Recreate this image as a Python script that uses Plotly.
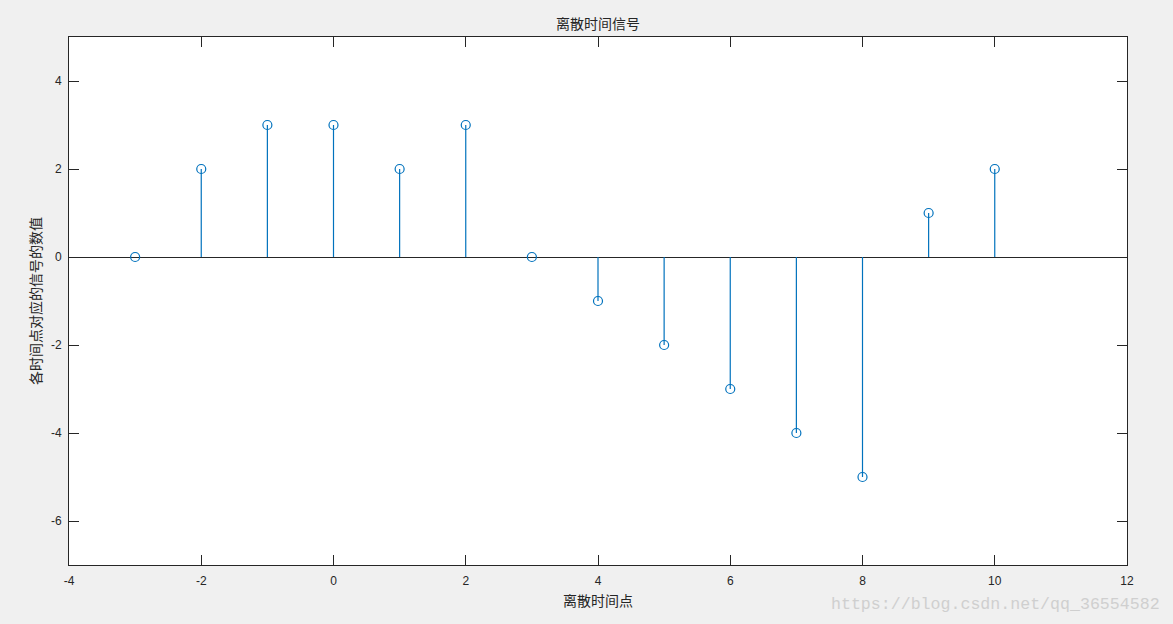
import plotly.graph_objects as go

n_vals = [-3, -2, -1, 0, 1, 2, 3, 4, 5, 6, 7, 8, 9, 10]
signal = [0, 2, 3, 3, 2, 3, 0, -1, -2, -3, -4, -5, 1, 2]
x_ticks = [-4, -2, 0, 2, 4, 6, 8, 10, 12]
y_ticks = [-6, -4, -2, 0, 2, 4]

title_text = "离散时间信号"
x_label = "离散时间点"
y_label = "各时间点对应的信号的数值"
watermark = "https://blog.csdn.net/qq_36554582"

blue = "#0072BD"
dark = "#262626"
cjk = "Noto Sans CJK SC"

stem_x, stem_y = [], []
for xv, yv in zip(n_vals, signal):
    stem_x += [xv, xv, None]
    stem_y += [0, yv, None]

fig = go.Figure()
fig.add_trace(go.Scatter(x=stem_x, y=stem_y, mode="lines",
                         line=dict(color=blue, width=1.2), hoverinfo="skip",
                         showlegend=False))
fig.add_trace(go.Scatter(x=n_vals, y=signal, mode="markers",
                         marker=dict(symbol="circle-open", size=9,
                                     color=blue, line=dict(width=1.2)),
                         showlegend=False))

axis_common = dict(showgrid=False, ticks="inside", ticklen=10, tickwidth=1,
                   tickcolor=dark, showline=True, linecolor=dark, linewidth=1,
                   mirror="ticks",
                   tickfont=dict(family="Liberation Sans, Arial", size=12, color=dark))

fig.update_xaxes(range=[-4, 12], tickvals=x_ticks,
                 ticktext=[str(v) for v in x_ticks], zeroline=False,
                 ticklabelstandoff=5,
                 title=dict(text=x_label, font=dict(family=cjk, size=14, color=dark),
                            standoff=8),
                 **axis_common)
fig.update_yaxes(range=[-7, 5], tickvals=y_ticks,
                 ticktext=[str(v) for v in y_ticks], zeroline=True,
                 zerolinecolor=dark, zerolinewidth=1,
                 ticklabelstandoff=4,
                 title=dict(text=y_label, font=dict(family=cjk, size=14, color=dark),
                            standoff=6),
                 **axis_common)

fig.update_layout(
    width=1173, height=624,
    margin=dict(l=69, r=46, t=37, b=59),
    paper_bgcolor="#f0f0f0", plot_bgcolor="white",
    title=dict(text=title_text, xref="paper", x=0.5, xanchor="center",
               y=1 - 24 / 624, yanchor="middle",
               font=dict(family=cjk, size=14, color=dark)),
)

fig.add_annotation(text=watermark, xref="paper", yref="paper",
                   x=1.0 + (1162 - 1127) / 1058, y=-(604 - 565) / 528,
                   xanchor="right", yanchor="middle", showarrow=False,
                   font=dict(family="Liberation Mono, DejaVu Sans Mono", size=16.6,
                             color="#cfcfcf"))

fig.write_html("out.html", config={"displayModeBar": False},
               post_script="document.body.style.margin='0';document.body.style.overflow='hidden';")
